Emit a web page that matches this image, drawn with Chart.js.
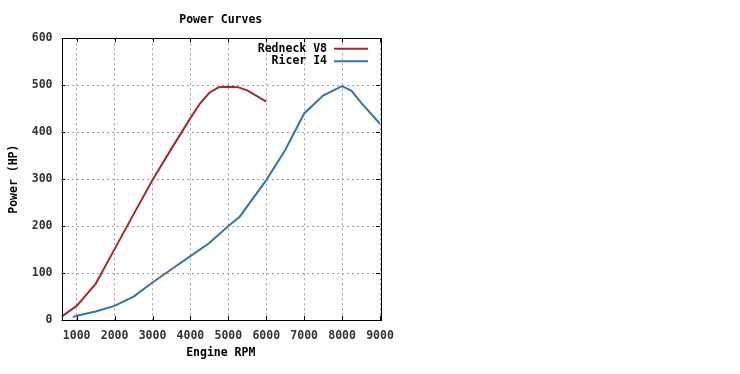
<!DOCTYPE html>
<html>
<head>
<meta charset="utf-8">
<script src="https://cdn.jsdelivr.net/npm/chart.js@4/dist/chart.umd.min.js"></script>
<style>
  html, body { margin: 0; padding: 0; background: #fff; }
  #wrap { width: 740px; height: 374px; }
</style>
</head>
<body>
<div id="wrap"><canvas id="powerChart" width="740" height="374"></canvas></div>
<script>
/* ===== Data ===== */
const v8Rpm = [600, 1000, 1500, 2000, 2500, 3000, 3500, 4000, 4250, 4500, 4750, 5000, 5250, 5500, 6000];
const v8Hp  = [7,   30,   77,   151,  225,  298,  365,  430,  461,  484,  496,  497,  496,  489,  465];

const i4Rpm = [900, 1000, 1500, 2000, 2500, 3000, 3500, 4000, 4500, 5000, 5300, 6000, 6500, 7000, 7500, 8000, 8250, 8500, 9000];
const i4Hp  = [6,   9,    18,   30,   50,   80,   108,  136,  164,  200,  220,  298,  362,  440,  478,  498,  488,  463,  418];

const xTicks = [1000, 2000, 3000, 4000, 5000, 6000, 7000, 8000, 9000];
const yTicks = [0, 100, 200, 300, 400, 500, 600];

const MONO = '"DejaVu Sans Mono", "Liberation Mono", monospace';
const colors = { v8: '#a52a2a', i4: '#2f77b0' };

function points(xs, ys) {
  return xs.map((x, i) => ({ x, y: ys[i] }));
}

/* ===== gnuplot style frame, inward ticks and key ===== */
const gnuplotFrame = {
  id: 'gnuplotFrame',
  afterDatasetsDraw(chart) {
    const { ctx, chartArea: a, scales: { x, y } } = chart;
    ctx.save();
    ctx.strokeStyle = '#000';
    ctx.lineWidth = 1;
    ctx.setLineDash([]);
    ctx.beginPath();
    xTicks.forEach(t => {
      const px = Math.round(x.getPixelForValue(t)) + 0.5;
      ctx.moveTo(px, a.bottom); ctx.lineTo(px, a.bottom - 4);
      ctx.moveTo(px, a.top);    ctx.lineTo(px, a.top + 4);
    });
    yTicks.forEach(t => {
      const py = Math.round(y.getPixelForValue(t)) + 0.5;
      ctx.moveTo(a.left, py);  ctx.lineTo(a.left + 4, py);
      ctx.moveTo(a.right, py); ctx.lineTo(a.right - 4, py);
    });
    ctx.stroke();
    ctx.strokeRect(Math.round(a.left) + 0.5, Math.round(a.top) + 0.5,
                   Math.round(a.right - a.left), Math.round(a.bottom - a.top));

    // key, text left of sample line like gnuplot
    ctx.font = 'bold 11.5px ' + MONO;
    ctx.textAlign = 'right';
    ctx.textBaseline = 'middle';
    chart.data.datasets.forEach((ds, i) => {
      const rowY = a.top + 10.5 + i * 12.5;
      ctx.fillStyle = '#000';
      ctx.fillText(ds.label, a.right - 53, rowY);
      ctx.strokeStyle = ds.borderColor;
      ctx.lineWidth = 2;
      ctx.beginPath();
      ctx.moveTo(a.right - 46, rowY);
      ctx.lineTo(a.right - 12, rowY);
      ctx.stroke();
    });
    ctx.restore();
  }
};

const ctx = document.getElementById('powerChart').getContext('2d');

new Chart(ctx, {
  type: 'line',
  data: {
    datasets: [
      {
        label: 'Redneck V8',
        data: points(v8Rpm, v8Hp),
        borderColor: colors.v8,
        borderWidth: 2,
        pointRadius: 0,
        tension: 0
      },
      {
        label: 'Ricer I4',
        data: points(i4Rpm, i4Hp),
        borderColor: colors.i4,
        borderWidth: 2,
        pointRadius: 0,
        tension: 0
      }
    ]
  },
  options: {
    responsive: false,
    animation: false,
    events: [],
    layout: { padding: { top: 0, left: 0, right: 360, bottom: 0 } },
    plugins: {
      legend: { display: false },
      tooltip: { enabled: false },
      title: {
        display: true,
        text: 'Power Curves',
        fullSize: false,
        color: '#000',
        font: { family: MONO, size: 11.5, weight: 'bold' },
        padding: { top: 13, bottom: 11.5 }
      }
    },
    scales: {
      x: {
        type: 'linear',
        min: 600,
        max: 9000,
        afterBuildTicks: s => { s.ticks = xTicks.map(v => ({ value: v })); },
        afterFit: s => { s.height = 54; },
        ticks: {
          color: '#333',
          padding: 9,
          maxRotation: 0,
          callback: v => String(v),
          font: { family: MONO, size: 11.5, weight: 'bold' }
        },
        grid: { color: '#a0a0a0', drawTicks: false, lineWidth: 1 },
        border: { display: false, dash: [2, 3] },
        title: {
          display: true,
          text: 'Engine RPM',
          color: '#000',
          font: { family: MONO, size: 11.5, weight: 'bold' },
          padding: { top: 0, bottom: 14 }
        }
      },
      y: {
        min: 0,
        max: 600,
        afterBuildTicks: s => { s.ticks = yTicks.map(v => ({ value: v })); },
        afterFit: s => { s.width = 61.5; },
        ticks: {
          color: '#333',
          padding: 9,
          callback: v => String(v),
          font: { family: MONO, size: 11.5, weight: 'bold' }
        },
        grid: { color: '#a0a0a0', drawTicks: false, lineWidth: 1 },
        border: { display: false, dash: [2, 3] },
        title: {
          display: true,
          text: 'Power (HP)',
          color: '#000',
          font: { family: MONO, size: 11.5, weight: 'bold' },
          padding: { top: 7, bottom: 0 }
        }
      }
    }
  },
  plugins: [gnuplotFrame]
});
</script>
</body>
</html>
